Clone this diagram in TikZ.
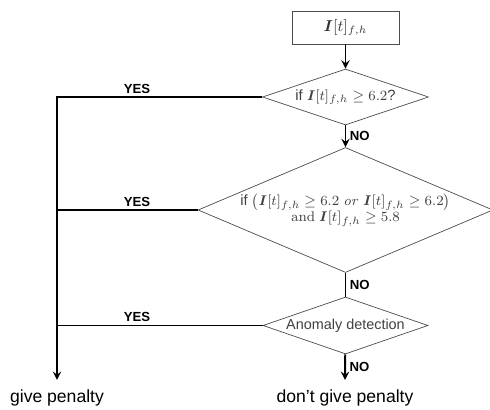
\documentclass[tikz,border=0pt]{standalone}
\usepackage{amsmath}
\usepackage[no-math]{fontspec}
\setmainfont{Liberation Sans}
\usetikzlibrary{shapes.geometric,positioning}
\colorlet{linegray}{black!70}
\tikzstyle{inbox}=[draw=linegray,rectangle,inner sep=0pt,minimum width=2.14cm,
  minimum height=0.66cm,text=black!80]
\tikzstyle{test}=[draw=linegray,diamond,inner sep=0pt,text=black!75,align=center]
\tikzstyle{flow}=[line width=1.1pt]
\tikzstyle{yes}=[font=\fontsize{7.5}{8}\selectfont\bfseries,above,inner sep=2pt]
\tikzstyle{no}=[font=\fontsize{7.5}{8}\selectfont\bfseries,right,inner sep=2pt]
\tikzstyle{result}=[font=\fontsize{10}{12}\selectfont,inner sep=0pt]

\begin{document}
\begin{tikzpicture}[>=stealth, on grid, node distance=1.4cm]
  \useasboundingbox (0,0) rectangle (9.8,-8.2);
  \node[inbox] (in) at (6.91,-0.55) {\small$\boldsymbol{I}[t]_{f,h}$};
  \node[test, aspect=3, minimum width=3.32cm, minimum height=1.12cm,
    below=1.39cm of in, font=\fontsize{8.4}{10}\selectfont] (d1)
    {if $\boldsymbol{I}[t]_{f,h} \geq 6.2$?};
  \node[test, aspect=2.36, minimum width=5.9cm, minimum height=2.5cm,
    below=2.26cm of d1, font=\fontsize{8.4}{10}\selectfont] (d2)
    {if $\left(\boldsymbol{I}[t]_{f,h} \geq 6.2\ \mathit{or}\
      \boldsymbol{I}[t]_{f,h} \geq 6.2\right)$\\[-1pt]
     $\mathrm{and}\ \boldsymbol{I}[t]_{f,h} \geq 5.8$};
  \node[test, aspect=2.9, minimum width=3.3cm, minimum height=1.14cm,
    below=2.31cm of d2, font=\fontsize{8.2}{10}\selectfont] (d3)
    {Anomaly detection};
  \coordinate (nopen) at (6.9,-7.6);
  \node[result] (dont) at (6.9,-7.96) {don't give penalty};
  \coordinate (corner) at (1.14,-1.94);
  \coordinate (pen) at (1.14,-7.6);
  \node[result] (give) at (1.14,-7.96) {give penalty};
  \coordinate (yesx) at (2.74,0);

  \draw[flow,->] (in) -- (d1);
  \draw[flow,->] (d1) -- node[no] {NO} (d2);
  \draw[flow] (d2) -- node[no] {NO} (d3);
  \draw[flow,->] (d3) -- node[no] {NO} (nopen);

  \draw[flow,->] (d1.west) -- (corner) -- (pen);
  \draw[flow] (d2.west) -- (d2.west -| corner);
  \draw[flow] (d3.west) -- (d3.west -| corner);
  \node[yes] at (d1.west -| yesx) {YES};
  \node[yes] at (d2.west -| yesx) {YES};
  \node[yes] at (d3.west -| yesx) {YES};
\end{tikzpicture}
\end{document}
